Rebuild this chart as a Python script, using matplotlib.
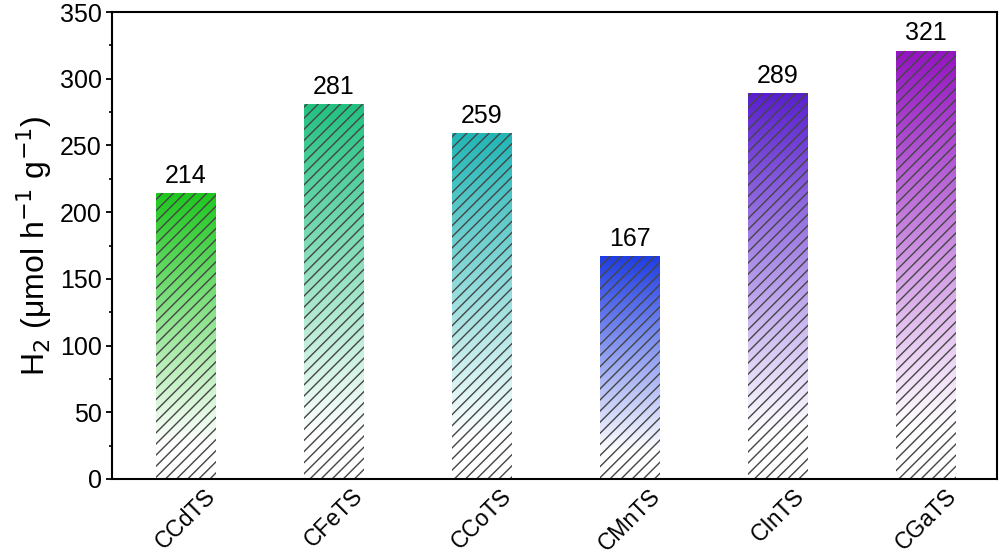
import matplotlib
matplotlib.use('Agg')
import matplotlib.pyplot as plt
import numpy as np
from matplotlib.colors import LinearSegmentedColormap, to_rgb

plt.rcParams['font.family'] = ['Liberation Sans', 'DejaVu Sans']
plt.rcParams['hatch.linewidth'] = 1.0

# ─── data ───────────────────────────────────────────────────────────────────
samples = ['CCdTS', 'CFeTS', 'CCoTS', 'CMnTS', 'CInTS', 'CGaTS']
h2_rate = [214, 281, 259, 167, 289, 321]
top_colors = ['#1ec81e', '#22c281', '#22b6b6', '#1f3de3', '#5a1fd0', '#9414c2']

# ─── figure ─────────────────────────────────────────────────────────────────
fig = plt.figure(figsize=(10.01, 5.59), dpi=100)
ax = fig.add_axes([112 / 1001, 1 - 479 / 559, 885 / 1001, 467 / 559])

width = 0.4
x = np.arange(len(samples))
grad = np.linspace(0, 1, 256).reshape(-1, 1)

for xi, val, col in zip(x, h2_rate, top_colors):
    cmap = LinearSegmentedColormap.from_list(
        'g', [(0.0, 'white'), (0.12, 'white'), (1.0, to_rgb(col))])
    im = ax.imshow(grad, cmap=cmap, aspect='auto', origin='lower',
                   extent=[xi - width / 2, xi + width / 2, 0, val],
                   zorder=1, interpolation='bilinear')
    bar = ax.bar(xi, val, width, facecolor='none', edgecolor='#454545',
                 linewidth=0, hatch='///', zorder=2)[0]
    im.set_clip_path(bar)
    ax.text(xi, val + 4, f'{val}', ha='center', va='bottom', fontsize=18)

ax.set_xlim(-0.5, 5.48)
ax.set_ylim(0, 350)
ax.set_yticks(np.arange(0, 351, 50))
ax.set_yticks(np.arange(25, 350, 50), minor=True)
ax.set_xticks(x)
ax.set_xticklabels(samples, rotation=45, ha='center', va='top', fontsize=16.5)
ax.tick_params(axis='x', length=0, pad=4)
ax.tick_params(axis='y', which='major', length=4, width=1.3, labelsize=18,
               direction='out')
ax.tick_params(axis='y', which='minor', length=2.5, width=1.2, direction='out')
for sp in ax.spines.values():
    sp.set_linewidth(1.5)

ax.set_ylabel(r'H$_2$ ($\mathregular{\mu}$mol h$^{-1}$ g$^{-1}$)', fontsize=23,
              labelpad=4)

fig.savefig('out.png', dpi=100)
